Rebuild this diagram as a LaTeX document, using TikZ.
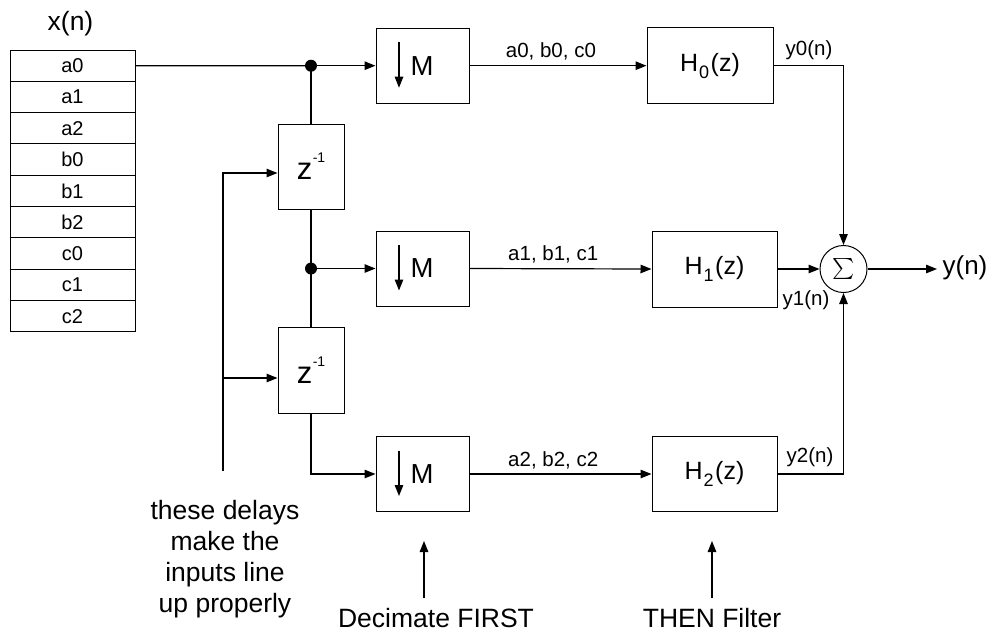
\documentclass[tikz,border=0pt]{standalone}
\usepackage{fontspec}
\setmainfont{Liberation Sans}
\usetikzlibrary{arrows.meta,calc}
\begin{document}
\begin{tikzpicture}[x=1pt,y=-1pt,
  cell/.style={draw, line width=1pt, minimum width=125pt, minimum height=31.33pt, inner sep=0pt, font=\fontsize{20}{20}\selectfont},
  blk/.style={draw, line width=1pt, inner sep=0pt},
  conn/.style={line width=1.2pt, -{Triangle[length=11pt,width=8.5pt]}},
  plain/.style={line width=1.2pt},
  lbl/.style={inner sep=0pt, anchor=base, font=\fontsize{20.5}{20.5}\selectfont},
  big/.style={inner sep=0pt, font=\fontsize{26.5}{31}\selectfont, align=center},
  dot/.style={circle, fill, inner sep=0pt, minimum size=12pt}]
\useasboundingbox (0,0) rectangle (991,633);

% input table
\node[big, anchor=base] (xn) at (70.5,30) {x(n)};
\foreach \t [count=\i from 0] in {a0,a1,a2,b0,b1,b2,c0,c1,c2}{
  \node[cell] (r\i) at (72.5,{50+31.33*(\i+0.5)}) {\t};
}

% decimators
\foreach \k/\y in {0/65.7,1/268.5,2/474}{
  \node[blk, minimum width=93pt, minimum height=75pt] (m\k) at (422.5,\y) {};
  \node[inner sep=0pt, font=\fontsize{27.5}{27.5}\selectfont] (mt\k) at ($(m\k.center)+(-0.5,0)$) {M};
  \draw[conn] ($(m\k.center)+(-23.5,-23.5)$) -- ($(m\k.center)+(-23.5,22)$);
}

% delays
\node[blk, minimum width=66pt, minimum height=85pt, font=\fontsize{31}{31}\selectfont] (z0) at (311,166.5) {z\kern0.5pt\raisebox{17pt}{\fontsize{14}{14}\selectfont -1}};
\node[blk, minimum width=66pt, minimum height=86pt, font=\fontsize{31}{31}\selectfont] (z1) at (311,370) {z\kern0.5pt\raisebox{17pt}{\fontsize{14}{14}\selectfont -1}};

% filters
\node[blk, minimum width=126pt, minimum height=76pt, font=\fontsize{25}{25}\selectfont] (h0) at (710,65.7) {H\kern1pt\raisebox{-7pt}{\fontsize{18}{18}\selectfont 0}\kern1.5pt(z)};
\node[blk, minimum width=125pt, minimum height=76pt, font=\fontsize{25}{25}\selectfont] (h1) at (714.5,269) {H\kern1pt\raisebox{-7pt}{\fontsize{18}{18}\selectfont 1}\kern1.5pt(z)};
\node[blk, minimum width=125pt, minimum height=75pt, font=\fontsize{25}{25}\selectfont] (h2) at (714.5,474) {H\kern1pt\raisebox{-7pt}{\fontsize{18}{18}\selectfont 2}\kern1.5pt(z)};

% summer
\node[draw, circle, line width=1pt, minimum size=47pt, inner sep=0pt] (s) at (843.5,269) {\scalebox{2.1}{$\sum$}};
\node[inner sep=0pt, anchor=base, font=\fontsize{26}{26}\selectfont] (yn) at (965,274) {y(n)};
\coordinate (yin) at (937,269);

% junction dots
\node[dot] (d0) at (311,65.7) {};
\node[dot] (d1) at (311,268.5) {};

% main connections
\draw[plain] (r0.east) -- (d0.center);
\draw[conn] (d0.center) -- (m0.west);
\draw[plain] (d0.center) -- (z0.north);
\draw[plain] (z0.south) -- (d1.center);
\draw[conn] (d1.center) -- (m1.west);
\draw[plain] (d1.center) -- (z1.north);
\draw[conn] (z1.south) |- (m2.west);

% feed lines to delays
\coordinate (fbb) at (223,471);
\coordinate (fbm) at (223,378);
\draw[conn] (fbb) |- ($(z0.west)+(0,6.5)$);
\draw[conn] (fbm) -- ($(z1.west)+(0,8)$);

% M -> H
\draw[conn] (m0.east) -- node[lbl, pos=0.46, yshift=8pt] {a0, b0, c0} (h0.west);
\draw[conn] (m1.east) -- node[lbl, pos=0.46, yshift=8pt] {a1, b1, c1} (h1.west);
\draw[conn] (m2.east) -- node[lbl, pos=0.46, yshift=8pt] {a2, b2, c2} (h2.west);

% H -> sum
\draw[conn] (h0.east) -| (s.north);
\draw[conn] (h1.east) -- (s.west);
\draw[conn] (h2.east) -| (s.south);
\draw[conn] (s.east) -- (yin);
\node[lbl] (y0) at (809,55) {y0(n)};
\node[lbl] (y1) at (806,305) {y1(n)};
\node[lbl] (y2) at (810,462) {y2(n)};

% annotations
\node[big] (note) at (225,559) {these delays\\make the\\inputs line\\up properly};
\node[big, anchor=base] (dec) at (436,627) {Decimate FIRST};
\node[big, anchor=base] (thn) at (712,627) {THEN Filter};
\draw[conn] ($(m2.south)+(1.5,86)$) -- ($(m2.south)+(1.5,29)$);
\draw[conn] ($(h2.south)+(-2.5,86)$) -- ($(h2.south)+(-2.5,29)$);
\end{tikzpicture}
\end{document}
